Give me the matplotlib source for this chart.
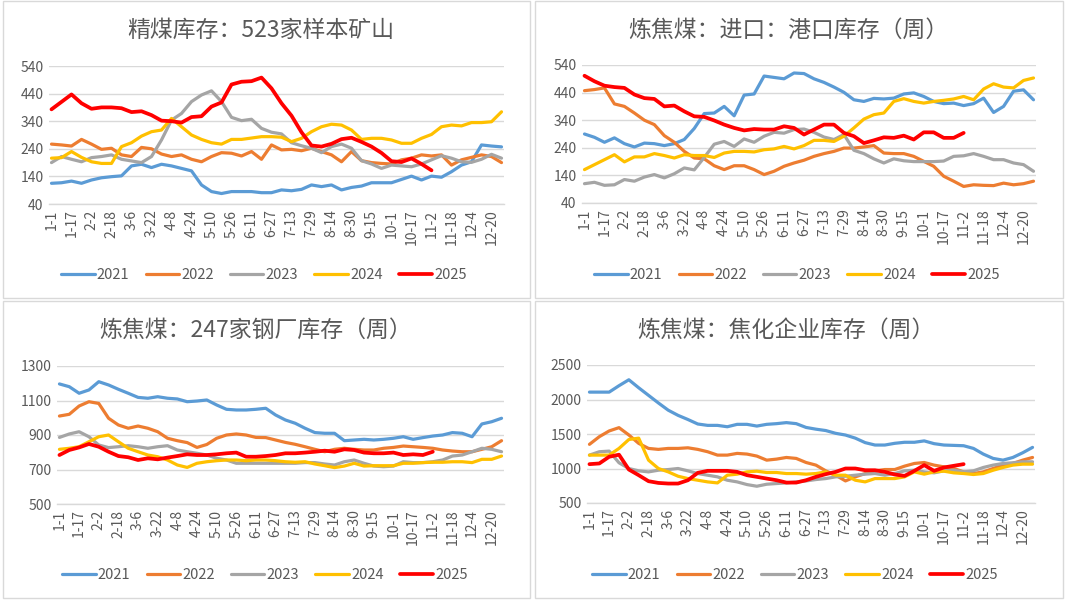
import matplotlib
matplotlib.use("Agg")
import matplotlib.pyplot as plt
import numpy as np
from matplotlib.patches import Rectangle

plt.rcParams['font.family'] = ['Noto Sans CJK SC', 'DejaVu Sans']

# week labels (every other one is shown on the axis)
dates = ["1-1", "1-9", "1-17", "1-25", "2-2", "2-10", "2-18", "2-26", "3-6", "3-14",
         "3-22", "3-30", "4-8", "4-16", "4-24", "5-2", "5-10", "5-18", "5-26", "6-3",
         "6-11", "6-19", "6-27", "7-5", "7-13", "7-21", "7-29", "8-6", "8-14", "8-22",
         "8-30", "9-7", "9-15", "9-23", "10-1", "10-9", "10-17", "10-25", "11-2", "11-10",
         "11-18", "11-26", "12-4", "12-12", "12-20", "12-28"]
years = ["2021", "2022", "2023", "2024", "2025"]
colors = ["#5B9BD5", "#ED7D31", "#A5A5A5", "#FFC000", "#FF0000"]

# 精煤库存：523家样本矿山
p1_2021 = [115, 117, 123, 115, 127, 135, 139, 142, 178, 184, 172, 184, 178, 169, 160, 109, 85, 78, 85, 85,
           85, 81, 81, 91, 88, 93, 109, 103, 109, 91, 100, 105, 117, 117, 117, 129, 141, 127, 141, 137,
           157, 181, 193, 254, 250, 247]
p1_2022 = [257, 254, 250, 274, 257, 238, 242, 218, 212, 245, 240, 221, 212, 218, 202, 193, 212, 226, 224, 214,
           230, 202, 254, 236, 238, 233, 242, 230, 218, 193, 230, 197, 190, 187, 185, 200, 206, 218, 214, 218,
           181, 200, 209, 218, 212, 190]
p1_2023 = [190, 212, 202, 193, 208, 212, 218, 202, 196, 190, 212, 272, 344, 368, 411, 435, 450, 411, 354, 342,
           347, 314, 300, 294, 262, 251, 242, 226, 248, 257, 242, 197, 185, 169, 181, 178, 175, 185, 200, 215,
           206, 193, 191, 202, 220, 206]
p1_2024 = [206, 208, 230, 209, 193, 187, 187, 248, 262, 286, 302, 308, 350, 320, 290, 274, 262, 257, 274, 274,
           279, 284, 284, 282, 266, 278, 302, 320, 329, 326, 308, 274, 278, 278, 272, 260, 260, 278, 292, 320,
           326, 323, 335, 335, 338, 374]
p1_2025 = [383, 410, 437, 405, 385, 390, 390, 387, 373, 376, 362, 342, 340, 335, 355, 358, 393, 408, 473, 483,
           485, 498, 459, 405, 360, 300, 252, 248, 258, 275, 280, 265, 248, 225, 195, 192, 205, 185, 162]

# 炼焦煤：进口：港口库存（周）
p2_2021 = [290, 278, 260, 276, 255, 243, 257, 255, 248, 255, 270, 310, 364, 366, 390, 356, 431, 435, 500, 495,
           490, 511, 509, 490, 477, 460, 441, 414, 408, 419, 417, 420, 435, 439, 426, 408, 400, 402, 393, 400,
           420, 368, 390, 445, 450, 414]
p2_2022 = [447, 451, 457, 399, 390, 366, 340, 324, 284, 260, 227, 203, 200, 175, 161, 175, 175, 161, 143, 155,
           173, 185, 195, 209, 219, 227, 239, 239, 243, 248, 221, 219, 219, 209, 191, 173, 137, 119, 100, 106,
           104, 103, 112, 106, 110, 119]
p2_2023 = [110, 115, 104, 106, 125, 119, 134, 143, 131, 146, 167, 160, 205, 253, 263, 245, 272, 260, 282, 296,
           293, 306, 308, 296, 279, 270, 288, 231, 219, 200, 185, 200, 193, 190, 190, 190, 192, 209, 211, 219,
           209, 197, 197, 185, 179, 155]
p2_2024 = [161, 179, 197, 215, 189, 207, 207, 219, 212, 203, 215, 212, 212, 205, 221, 227, 227, 225, 233, 236,
           245, 236, 248, 267, 267, 263, 282, 312, 344, 360, 366, 408, 418, 408, 402, 408, 412, 417, 426, 414,
           453, 472, 460, 457, 484, 493]
p2_2025 = [501, 481, 465, 460, 457, 433, 420, 417, 390, 393, 372, 354, 352, 339, 324, 312, 303, 308, 306, 306,
           318, 312, 288, 306, 324, 324, 294, 282, 257, 267, 278, 276, 284, 270, 296, 296, 276, 276, 294]

# 炼焦煤：247家钢厂库存（周）
p3_2021 = [1196, 1180, 1142, 1161, 1209, 1190, 1165, 1142, 1118, 1113, 1122, 1113, 1109, 1093, 1097, 1103, 1074,
           1049, 1045, 1045, 1049, 1055, 1016, 987, 968, 939, 914, 910, 910, 867, 871, 875, 871, 875, 881, 890,
           875, 885, 894, 900, 914, 910, 890, 964, 977, 997]
p3_2022 = [1010, 1020, 1068, 1093, 1083, 997, 958, 939, 952, 939, 919, 881, 867, 856, 828, 845, 881, 900, 906,
           900, 886, 885, 871, 857, 846, 832, 817, 803, 817, 823, 817, 813, 813, 823, 828, 836, 832, 828, 823,
           813, 807, 803, 803, 817, 832, 867]
p3_2023 = [886, 906, 919, 890, 842, 827, 832, 838, 832, 823, 832, 838, 813, 803, 794, 784, 765, 755, 736, 736,
           736, 736, 736, 736, 736, 740, 740, 732, 726, 745, 755, 736, 720, 716, 720, 745, 740, 740, 745, 755,
           778, 784, 803, 823, 817, 803]
p3_2024 = [817, 823, 832, 861, 890, 900, 861, 823, 803, 784, 774, 755, 726, 712, 736, 745, 751, 755, 755, 751,
           755, 755, 751, 745, 742, 745, 732, 722, 711, 720, 736, 720, 722, 722, 722, 736, 736, 740, 742, 742,
           745, 745, 740, 759, 759, 778]
p3_2025 = [784, 813, 828, 848, 832, 803, 778, 771, 755, 765, 759, 769, 778, 788, 784, 784, 788, 794, 798, 774,
           774, 778, 784, 794, 794, 798, 803, 809, 803, 817, 813, 798, 794, 794, 798, 784, 788, 784, 803]

# 炼焦煤：焦化企业库存（周）
p4_2021 = [2107, 2107, 2107, 2200, 2286, 2170, 2060, 1950, 1845, 1770, 1710, 1645, 1625, 1625, 1605, 1640, 1640,
           1615, 1640, 1650, 1665, 1650, 1595, 1570, 1550, 1510, 1485, 1440, 1375, 1340, 1340, 1365, 1380, 1380,
           1400, 1360, 1340, 1335, 1330, 1291, 1209, 1146, 1121, 1160, 1228, 1306]
p4_2022 = [1350, 1461, 1544, 1592, 1486, 1364, 1291, 1277, 1291, 1291, 1300, 1277, 1243, 1194, 1194, 1219, 1209,
           1180, 1121, 1136, 1160, 1146, 1087, 1049, 966, 903, 820, 879, 927, 966, 985, 985, 1034, 1073, 1087,
           1049, 1024, 1000, 951, 927, 951, 1000, 1049, 1073, 1121, 1160]
p4_2023 = [1194, 1243, 1252, 1083, 1000, 966, 951, 975, 985, 1000, 966, 927, 903, 879, 830, 806, 767, 743, 772,
           782, 791, 806, 820, 840, 854, 879, 888, 903, 918, 927, 903, 927, 966, 975, 951, 937, 966, 975, 951,
           966, 1015, 1049, 1073, 1083, 1097, 1097]
p4_2024 = [1194, 1194, 1194, 1291, 1420, 1440, 1121, 1000, 951, 888, 854, 830, 806, 791, 903, 918, 951, 961, 942,
           942, 927, 927, 918, 927, 951, 903, 903, 830, 806, 854, 854, 854, 879, 951, 918, 951, 961, 937, 927,
           913, 927, 975, 1015, 1049, 1063, 1063]
p4_2025 = [1063, 1073, 1170, 1200, 985, 903, 816, 791, 782, 782, 830, 937, 966, 966, 966, 951, 903, 879, 854,
           830, 796, 796, 830, 879, 918, 951, 1000, 1000, 975, 975, 951, 913, 893, 966, 1049, 966, 1015, 1039, 1063]

panels = [
    ("精煤库存：523家样本矿山", [p1_2021, p1_2022, p1_2023, p1_2024, p1_2025],
     (40, 540), [40, 140, 240, 340, 440, 540]),
    ("炼焦煤：进口：港口库存（周）", [p2_2021, p2_2022, p2_2023, p2_2024, p2_2025],
     (40, 540), [40, 140, 240, 340, 440, 540]),
    ("炼焦煤：247家钢厂库存（周）", [p3_2021, p3_2022, p3_2023, p3_2024, p3_2025],
     (500, 1300), [500, 700, 900, 1100, 1300]),
    ("炼焦煤：焦化企业库存（周）", [p4_2021, p4_2022, p4_2023, p4_2024, p4_2025],
     (500, 2500), [500, 1000, 1500, 2000, 2500]),
]

W, H = 1065, 600
# pixel boxes: panel frame, plot area, title centre, legend centre
frames = [(3, 1, 530, 298), (535, 1, 1063, 298), (3, 301, 530, 598), (535, 301, 1063, 598)]
areas = [(49, 66, 504, 204), (582, 65, 1036, 203), (57, 366, 504, 504), (587, 365, 1035, 503)]
titles = [(261, 30), (788, 30), (256, 330), (786, 330)]
legends = [(264, 275), (797, 275), (265, 575), (795, 575)]

fig = plt.figure(figsize=(W / 100, H / 100), dpi=100)

for k, (title, series, ylim, yticks) in enumerate(panels):
    fx0, fy0, fx1, fy1 = frames[k]
    fig.add_artist(Rectangle((fx0 / W, 1 - fy1 / H), (fx1 - fx0) / W, (fy1 - fy0) / H,
                             transform=fig.transFigure, fill=False, edgecolor="#D9D9D9", lw=1))
    x0, y0, x1, y1 = areas[k]
    ax = fig.add_axes([x0 / W, 1 - y1 / H, (x1 - x0) / W, (y1 - y0) / H])
    for vals, yr, c in zip(series, years, colors):
        lw = 2.7 if yr == "2025" else 2.3
        ax.plot(range(len(vals)), vals, color=c, lw=lw, label=yr, solid_capstyle="round")
    ax.set_xlim(-0.25, len(dates) - 0.75)
    ax.set_ylim(*ylim)
    ax.set_yticks(yticks)
    ax.set_xticks(range(0, len(dates), 2))
    ax.set_xticklabels(dates[::2], rotation=90)
    ax.tick_params(length=0, labelsize=10, colors="#595959", pad=4)
    ax.yaxis.grid(True, color="#D9D9D9", lw=1)
    ax.set_axisbelow(True)
    for s in ["top", "right", "left"]:
        ax.spines[s].set_visible(False)
    ax.spines["bottom"].set_color("#D9D9D9")
    ax.spines["bottom"].set_linewidth(1)
    tx, ty = titles[k]
    fig.text(tx / W, 1 - ty / H, title, ha="center", va="center", fontsize=16.5, color="#595959")
    lx, ly = legends[k]
    ax.legend(loc="center", bbox_to_anchor=(lx / W, 1 - ly / H), bbox_transform=fig.transFigure,
              ncol=5, frameon=False, fontsize=10.5, handlelength=2.3, handletextpad=0.15,
              columnspacing=1.1, labelcolor="#595959")

fig.savefig("out.png", dpi=100)
